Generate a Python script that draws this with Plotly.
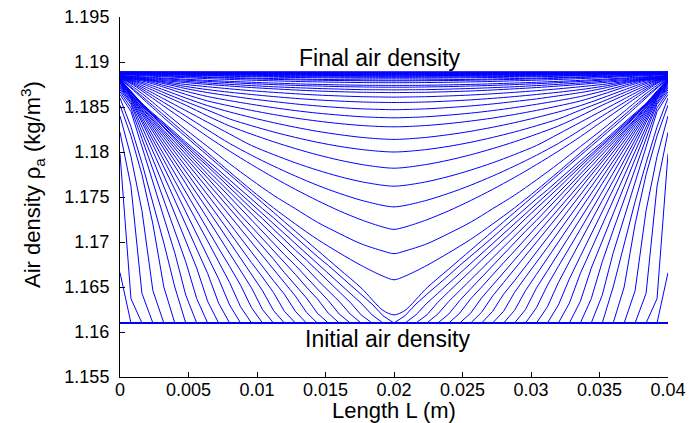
import plotly.graph_objects as go

# ---------------- data ----------------
RHO_INITIAL = 1.161          # initial air density (kg/m3)
RHO_FINAL = 1.1889           # final air density (kg/m3)
GRID_STEP = 0.0008           # spacing of the computational nodes (m)
MID_NODE = 25                # node at x = 0.02 m (symmetry plane), 51 nodes in total

X_TICKS = [0, 0.005, 0.01, 0.015, 0.02, 0.025, 0.03, 0.035, 0.04]
X_TICK_TEXT = ["0", "0.005", "0.01", "0.015", "0.02", "0.025", "0.03", "0.035", "0.04"]
Y_TICKS = [1.155, 1.16, 1.165, 1.17, 1.175, 1.18, 1.185, 1.19, 1.195]
Y_TICK_TEXT = ["1.155", "1.16", "1.165", "1.17", "1.175", "1.18", "1.185", "1.19", "1.195"]

# Early profiles (before the two fronts meet): density at nodes 0,1,2,... of the
# left half; beyond the listed nodes the density is still the initial one.
EARLY_PROFILES = [
    [1.1666],
    [1.1798, 1.1637],
    [1.1822, 1.1762, 1.1643],
    [1.1840, 1.1795, 1.1735, 1.1646],
    [1.1852, 1.1818, 1.1775, 1.1720, 1.1650],
    [1.1860, 1.1828, 1.1788, 1.1745, 1.1699, 1.1650],
    [1.1864, 1.1845, 1.1806, 1.1767, 1.1727, 1.1688, 1.1641],
    [1.1867, 1.1849, 1.1815, 1.1781, 1.1747, 1.1713, 1.1678, 1.1637],
    [1.1869, 1.1853, 1.1822, 1.1792, 1.1762, 1.1731, 1.1701, 1.1671, 1.1634],
    [1.1871, 1.1855, 1.1828, 1.1801, 1.1774, 1.1746, 1.1719, 1.1692, 1.1665, 1.1632],
    [1.1872, 1.1857, 1.1833, 1.1808, 1.1783, 1.1758, 1.1734, 1.1709, 1.1684, 1.1659, 1.1630],
    [1.1873, 1.1859, 1.1836, 1.1814, 1.1791, 1.1768, 1.1746, 1.1723, 1.1701, 1.1678, 1.1655, 1.1628],
    [1.1874, 1.1860, 1.1839, 1.1818, 1.1798, 1.1777, 1.1756, 1.1735, 1.1714, 1.1693, 1.1673, 1.1652, 1.1627],
    [1.1875, 1.1861, 1.1842, 1.1823, 1.1803, 1.1784, 1.1765, 1.1745, 1.1726, 1.1707, 1.1687, 1.1668, 1.1649,
     1.1625],
    [1.1876, 1.1862, 1.1844, 1.1826, 1.1808, 1.1790, 1.1772, 1.1754, 1.1736, 1.1718, 1.1700, 1.1682, 1.1664,
     1.1646, 1.1624],
    [1.1877, 1.1863, 1.1846, 1.1829, 1.1812, 1.1795, 1.1778, 1.1762, 1.1745, 1.1728, 1.1711, 1.1694, 1.1677,
     1.1661, 1.1644, 1.1623],
    [1.1877, 1.1863, 1.1847, 1.1832, 1.1816, 1.1800, 1.1784, 1.1768, 1.1752, 1.1737, 1.1721, 1.1705, 1.1689,
     1.1673, 1.1657, 1.1642, 1.1623],
    [1.1878, 1.1864, 1.1849, 1.1834, 1.1819, 1.1804, 1.1789, 1.1774, 1.1759, 1.1744, 1.1729, 1.1714, 1.1699,
     1.1685, 1.1670, 1.1655, 1.1640, 1.1622],
    [1.1878, 1.1864, 1.1850, 1.1836, 1.1822, 1.1807, 1.1793, 1.1779, 1.1765, 1.1751, 1.1737, 1.1723, 1.1709,
     1.1695, 1.1681, 1.1666, 1.1652, 1.1638, 1.1621],
    [1.1879, 1.1865, 1.1851, 1.1837, 1.1824, 1.1811, 1.1797, 1.1784, 1.1771, 1.1757, 1.1744, 1.1730, 1.1717,
     1.1704, 1.1690, 1.1677, 1.1664, 1.1650, 1.1637, 1.1621],
    [1.1879, 1.1866, 1.1852, 1.1839, 1.1826, 1.1813, 1.1801, 1.1788, 1.1775, 1.1763, 1.1750, 1.1737, 1.1724,
     1.1712, 1.1699, 1.1686, 1.1674, 1.1661, 1.1648, 1.1635, 1.1620],
    [1.1880, 1.1866, 1.1852, 1.1840, 1.1828, 1.1816, 1.1804, 1.1792, 1.1780, 1.1767, 1.1755, 1.1743, 1.1731,
     1.1719, 1.1707, 1.1695, 1.1683, 1.1671, 1.1658, 1.1646, 1.1634, 1.1620],
    [1.1880, 1.1867, 1.1853, 1.1841, 1.1830, 1.1818, 1.1807, 1.1795, 1.1784, 1.1772, 1.1760, 1.1749, 1.1737,
     1.1726, 1.1714, 1.1703, 1.1691, 1.1680, 1.1668, 1.1656, 1.1645, 1.1633, 1.1619],
    [1.1881, 1.1867, 1.1853, 1.1842, 1.1831, 1.1820, 1.1809, 1.1798, 1.1787, 1.1776, 1.1765, 1.1754, 1.1743,
     1.1732, 1.1721, 1.1710, 1.1699, 1.1687, 1.1676, 1.1665, 1.1654, 1.1643, 1.1632, 1.1619],
    [1.1881, 1.1868, 1.1854, 1.1843, 1.1833, 1.1822, 1.1811, 1.1801, 1.1790, 1.1780, 1.1769, 1.1758, 1.1748,
     1.1737, 1.1727, 1.1716, 1.1705, 1.1695, 1.1684, 1.1674, 1.1663, 1.1652, 1.1642, 1.1631, 1.1618],
]

# Late profiles (after the fronts have met): density at these nodes of the left half
LATE_NODES = [0, 1, 2, 4, 6, 8, 10, 12, 14, 16, 18, 20, 22, 24, 25]
LATE_PROFILES = [
    [1.18812, 1.18710, 1.18600, 1.18380, 1.18170, 1.17960, 1.17750, 1.17540, 1.17330, 1.17120, 1.16910, 1.16700, 1.16490, 1.16240, 1.16190],
    [1.18815, 1.18720, 1.18620, 1.18410, 1.18200, 1.17990, 1.17780, 1.17575, 1.17380, 1.17200, 1.17030, 1.16880, 1.16740, 1.16620, 1.16580],
    [1.18818, 1.18740, 1.18650, 1.18450, 1.18250, 1.18060, 1.17870, 1.17690, 1.17520, 1.17370, 1.17220, 1.17095, 1.16980, 1.16900, 1.16870],
    [1.18820, 1.18760, 1.18680, 1.18510, 1.18340, 1.18170, 1.18010, 1.17860, 1.17718, 1.17585, 1.17461, 1.17347, 1.17247, 1.17166, 1.17140],
    [1.18823, 1.18770, 1.18700, 1.18550, 1.18400, 1.18245, 1.18095, 1.17964, 1.17844, 1.17733, 1.17631, 1.17541, 1.17464, 1.17406, 1.17390],
    [1.18825, 1.18780, 1.18720, 1.18590, 1.18460, 1.18330, 1.18200, 1.18072, 1.17972, 1.17880, 1.17799, 1.17728, 1.17670, 1.17630, 1.17620],
    [1.18828, 1.18790, 1.18740, 1.18630, 1.18520, 1.18400, 1.18289, 1.18198, 1.18114, 1.18038, 1.17969, 1.17910, 1.17862, 1.17828, 1.17820],
    [1.18830, 1.18795, 1.18760, 1.18660, 1.18560, 1.18465, 1.18367, 1.18292, 1.18223, 1.18162, 1.18108, 1.18063, 1.18028, 1.18005, 1.18000],
    [1.18831, 1.18800, 1.18775, 1.18690, 1.18600, 1.18515, 1.18445, 1.18383, 1.18326, 1.18275, 1.18230, 1.18193, 1.18163, 1.18144, 1.18140],
    [1.18833, 1.18805, 1.18790, 1.18720, 1.18640, 1.18567, 1.18512, 1.18462, 1.18417, 1.18377, 1.18344, 1.18316, 1.18295, 1.18282, 1.18280],
    [1.18835, 1.18810, 1.18800, 1.18740, 1.18675, 1.18616, 1.18571, 1.18530, 1.18493, 1.18460, 1.18432, 1.18410, 1.18392, 1.18382, 1.18380],
    [1.18836, 1.18815, 1.18805, 1.18760, 1.18705, 1.18660, 1.18624, 1.18590, 1.18561, 1.18534, 1.18512, 1.18494, 1.18480, 1.18472, 1.18470],
    [1.18837, 1.18820, 1.18810, 1.18772, 1.18728, 1.18693, 1.18664, 1.18639, 1.18616, 1.18596, 1.18579, 1.18566, 1.18556, 1.18551, 1.18550],
    [1.18840, 1.18824, 1.18813, 1.18782, 1.18750, 1.18725, 1.18702, 1.18681, 1.18663, 1.18647, 1.18633, 1.18623, 1.18615, 1.18611, 1.18610],
    [1.18842, 1.18829, 1.18817, 1.18793, 1.18771, 1.18751, 1.18733, 1.18716, 1.18702, 1.18689, 1.18678, 1.18670, 1.18664, 1.18661, 1.18660],
    [1.18845, 1.18834, 1.18823, 1.18803, 1.18785, 1.18767, 1.18752, 1.18738, 1.18725, 1.18715, 1.18706, 1.18699, 1.18693, 1.18691, 1.18690],
    [1.18848, 1.18839, 1.18830, 1.18814, 1.18798, 1.18784, 1.18771, 1.18759, 1.18749, 1.18740, 1.18733, 1.18727, 1.18723, 1.18720, 1.18720],
    [1.18852, 1.18844, 1.18836, 1.18822, 1.18808, 1.18796, 1.18785, 1.18775, 1.18766, 1.18758, 1.18751, 1.18746, 1.18742, 1.18740, 1.18740],
    [1.18860, 1.18854, 1.18847, 1.18836, 1.18825, 1.18815, 1.18806, 1.18798, 1.18791, 1.18784, 1.18779, 1.18775, 1.18772, 1.18770, 1.18770],
    [1.18865, 1.18860, 1.18855, 1.18845, 1.18836, 1.18828, 1.18820, 1.18813, 1.18807, 1.18802, 1.18798, 1.18794, 1.18792, 1.18790, 1.18790],
    [1.18868, 1.18863, 1.18859, 1.18850, 1.18842, 1.18834, 1.18827, 1.18821, 1.18816, 1.18811, 1.18807, 1.18804, 1.18802, 1.18800, 1.18800],
    [1.18872, 1.18868, 1.18865, 1.18858, 1.18852, 1.18846, 1.18841, 1.18836, 1.18832, 1.18828, 1.18825, 1.18823, 1.18821, 1.18820, 1.18820],
    [1.18875, 1.18872, 1.18869, 1.18863, 1.18857, 1.18852, 1.18848, 1.18844, 1.18840, 1.18837, 1.18835, 1.18832, 1.18831, 1.18830, 1.18830],
    [1.18878, 1.18875, 1.18872, 1.18867, 1.18863, 1.18859, 1.18855, 1.18852, 1.18849, 1.18846, 1.18844, 1.18842, 1.18841, 1.18840, 1.18840],
    [1.18880, 1.18877, 1.18875, 1.18871, 1.18867, 1.18864, 1.18861, 1.18858, 1.18855, 1.18853, 1.18851, 1.18850, 1.18849, 1.18848, 1.18848],
    [1.18881, 1.18879, 1.18878, 1.18874, 1.18871, 1.18868, 1.18865, 1.18863, 1.18861, 1.18859, 1.18858, 1.18856, 1.18856, 1.18855, 1.18855],
    [1.18883, 1.18881, 1.18879, 1.18876, 1.18874, 1.18871, 1.18869, 1.18867, 1.18865, 1.18864, 1.18862, 1.18861, 1.18860, 1.18860, 1.18860],
    [1.18884, 1.18882, 1.18881, 1.18879, 1.18877, 1.18874, 1.18873, 1.18871, 1.18869, 1.18868, 1.18867, 1.18866, 1.18865, 1.18865, 1.18865],
    [1.18885, 1.18884, 1.18883, 1.18881, 1.18879, 1.18878, 1.18876, 1.18875, 1.18873, 1.18872, 1.18872, 1.18871, 1.18870, 1.18870, 1.18870],
    [1.18886, 1.18885, 1.18885, 1.18883, 1.18882, 1.18881, 1.18879, 1.18878, 1.18878, 1.18877, 1.18876, 1.18876, 1.18875, 1.18875, 1.18875],
    [1.18888, 1.18887, 1.18887, 1.18886, 1.18885, 1.18884, 1.18883, 1.18883, 1.18882, 1.18882, 1.18881, 1.18881, 1.18880, 1.18880, 1.18880],
    [1.18889, 1.18889, 1.18888, 1.18888, 1.18888, 1.18887, 1.18887, 1.18887, 1.18886, 1.18886, 1.18886, 1.18886, 1.18885, 1.18885, 1.18885],
]

LINE_COLOR = "#0000ff"
FONT = "Liberation Sans, Arial, Helvetica, sans-serif"
TEXT_SIZE = 23
TICK_SIZE = 18

# ---------------- figure ----------------
fig = go.Figure()
n_last = 2 * MID_NODE


def mirror(nodes, values):
    """Profiles are symmetric about the mid plane: reflect the left half."""
    full_nodes = list(nodes) + [n_last - n for n in reversed(nodes[:-1])]
    full_vals = list(values) + list(reversed(values[:-1]))
    return [n * GRID_STEP for n in full_nodes], full_vals


# initial profile
xi, yi = mirror(list(range(MID_NODE + 1)), [RHO_INITIAL] * (MID_NODE + 1))
fig.add_trace(go.Scatter(x=xi, y=yi, mode="lines", line=dict(color=LINE_COLOR, width=2), hoverinfo="skip"))

for prof in EARLY_PROFILES:
    left = list(prof) + [RHO_INITIAL] * (MID_NODE + 1 - len(prof))
    xs, ys = mirror(list(range(MID_NODE + 1)), left)
    fig.add_trace(go.Scatter(x=xs, y=ys, mode="lines", line=dict(color=LINE_COLOR, width=1), hoverinfo="skip"))

for prof in LATE_PROFILES:
    xs, ys = mirror(LATE_NODES, prof)
    fig.add_trace(go.Scatter(x=xs, y=ys, mode="lines",
                             line=dict(color=LINE_COLOR, width=1, shape="spline", smoothing=0.8),
                             hoverinfo="skip"))

# final profile
xf, yf = mirror(LATE_NODES, [RHO_FINAL] * len(LATE_NODES))
fig.add_trace(go.Scatter(x=xf, y=yf, mode="lines", line=dict(color=LINE_COLOR, width=1.5), hoverinfo="skip"))

fig.add_annotation(x=0.019, y=1.1905, xref="x", yref="y", text="Final air density", showarrow=False,
                   font=dict(family=FONT, size=TEXT_SIZE, color="black"), xanchor="center", yanchor="middle")
fig.add_annotation(x=0.0195, y=1.1592, xref="x", yref="y", text="Initial air density", showarrow=False,
                   font=dict(family=FONT, size=TEXT_SIZE, color="black"), xanchor="center", yanchor="middle")
# axis titles
fig.add_annotation(x=0.5, y=0, xref="paper", yref="paper", yshift=-33, text="Length L (m)", showarrow=False,
                   font=dict(family=FONT, size=22, color="black"), xanchor="center", yanchor="middle")
fig.add_annotation(x=0, y=0.5, xref="paper", yref="paper", xshift=-88, yshift=12, textangle=-90,
                   text="Air density ρ<sub>a</sub> (kg/m<sup>3</sup>)", showarrow=False,
                   font=dict(family=FONT, size=22, color="black"), xanchor="center", yanchor="middle")

fig.update_layout(
    width=690, height=423,
    margin=dict(l=120, r=22, t=17, b=46),
    plot_bgcolor="white", paper_bgcolor="white",
    showlegend=False,
    font=dict(family=FONT, size=TICK_SIZE, color="black"),
)
fig.update_xaxes(
    range=[0, 0.04], tickvals=X_TICKS, ticktext=X_TICK_TEXT, automargin=False,
    ticks="inside", ticklen=5, tickcolor="black", showline=True, linecolor="black", linewidth=1,
    showgrid=False, zeroline=False, ticklabelstandoff=-4,
)
fig.update_yaxes(
    range=[1.155, 1.195], tickvals=Y_TICKS, ticktext=Y_TICK_TEXT, automargin=False,
    ticks="inside", ticklen=5, tickcolor="black", showline=True, linecolor="black", linewidth=1,
    showgrid=False, zeroline=False, ticklabelstandoff=6,
)

fig.write_html("out.html")
